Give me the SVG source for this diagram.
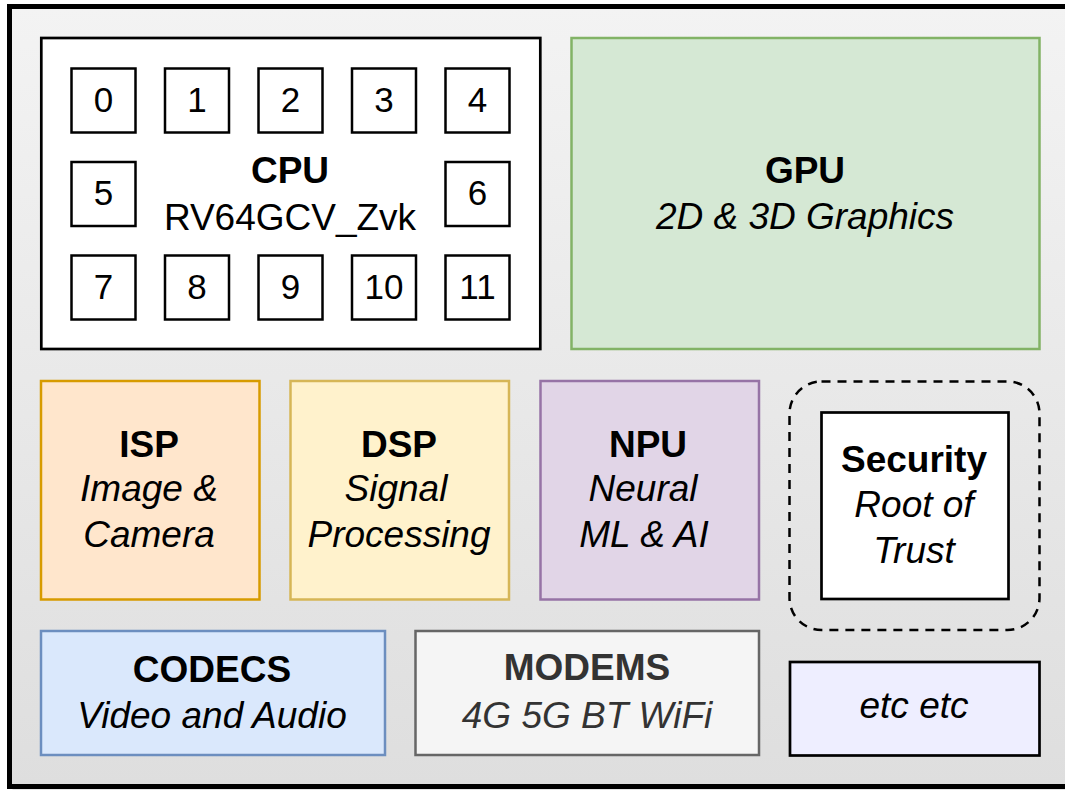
<svg xmlns="http://www.w3.org/2000/svg" width="1065" height="793" viewBox="0 0 1065 793">
  <defs>
    <linearGradient id="socFill" x1="0" y1="0" x2="0" y2="1">
      <stop offset="0" stop-color="#f3f3f3"/>
      <stop offset="1" stop-color="#dedede"/>
    </linearGradient>
  </defs>
  <style>
    text { font-family: "Liberation Sans", Arial, sans-serif; font-size: 37px; text-anchor: middle; fill: #000; }
    .b { font-weight: bold; }
    .i { font-style: italic; }
    .core rect { fill: #fff; stroke: #000; stroke-width: 2.5; }
    .core text { font-size: 35px; }
  </style>

  <!-- SoC package outline with drop shadow -->
  <g id="soc">
    <rect x="12.5" y="9.5" width="1070" height="780" fill="#9a9a9a" opacity="0.5"/>
    <rect x="9.5" y="6.5" width="1070" height="780" fill="url(#socFill)" stroke="#000" stroke-width="5"/>
  </g>

  <!-- CPU cluster -->
  <g id="cpu">
    <rect x="41.3" y="38" width="499" height="311" fill="#fff" stroke="#000" stroke-width="2.7"/>
    <text class="b" x="290" y="183">CPU</text>
    <text x="290" y="230">RV64GCV_Zvk</text>
  </g>
  <g id="core0" class="core"><rect x="71.5" y="68.5" width="64" height="64"/><text x="103.5" y="112">0</text></g>
  <g id="core1" class="core"><rect x="165" y="68.5" width="64" height="64"/><text x="197" y="112">1</text></g>
  <g id="core2" class="core"><rect x="258.5" y="68.5" width="64" height="64"/><text x="290.5" y="112">2</text></g>
  <g id="core3" class="core"><rect x="352" y="68.5" width="64" height="64"/><text x="384" y="112">3</text></g>
  <g id="core4" class="core"><rect x="445.5" y="68.5" width="64" height="64"/><text x="477.5" y="112">4</text></g>
  <g id="core5" class="core"><rect x="71.5" y="162" width="64" height="64"/><text x="103.5" y="205">5</text></g>
  <g id="core6" class="core"><rect x="445.5" y="162" width="64" height="64"/><text x="477.5" y="205">6</text></g>
  <g id="core7" class="core"><rect x="71.5" y="255.5" width="64" height="64"/><text x="103.5" y="299">7</text></g>
  <g id="core8" class="core"><rect x="165" y="255.5" width="64" height="64"/><text x="197" y="299">8</text></g>
  <g id="core9" class="core"><rect x="258.5" y="255.5" width="64" height="64"/><text x="290.5" y="299">9</text></g>
  <g id="core10" class="core"><rect x="352" y="255.5" width="64" height="64"/><text x="384" y="299">10</text></g>
  <g id="core11" class="core"><rect x="445.5" y="255.5" width="64" height="64"/><text x="477.5" y="299">11</text></g>

  <!-- GPU -->
  <g id="gpu">
    <rect x="571.5" y="38" width="468" height="311" fill="#d5e8d4" stroke="#82b366" stroke-width="2.5"/>
    <text class="b" x="805" y="183">GPU</text>
    <text class="i" x="805" y="229">2D &amp; 3D Graphics</text>
  </g>

  <!-- ISP -->
  <g id="isp">
    <rect x="41" y="381" width="218.5" height="218.5" fill="#ffe6cc" stroke="#d79b00" stroke-width="2.5"/>
    <text class="b" x="149" y="457">ISP</text>
    <text class="i" x="149" y="501">Image &amp;</text>
    <text class="i" x="149" y="547">Camera</text>
  </g>

  <!-- DSP -->
  <g id="dsp">
    <rect x="290.5" y="381" width="218.5" height="218.5" fill="#fff2cc" stroke="#d6b656" stroke-width="2.5"/>
    <text class="b" x="399" y="457">DSP</text>
    <text class="i" x="396" y="501">Signal</text>
    <text class="i" x="399" y="547">Processing</text>
  </g>

  <!-- NPU -->
  <g id="npu">
    <rect x="540.5" y="381" width="218.5" height="218.5" fill="#e1d5e7" stroke="#9673a6" stroke-width="2.5"/>
    <text class="b" x="648" y="457">NPU</text>
    <text class="i" x="643" y="501">Neural</text>
    <text class="i" x="644" y="547">ML &amp; AI</text>
  </g>

  <!-- Security enclave -->
  <g id="security-zone">
    <rect x="789.5" y="381.5" width="250" height="248.5" rx="32" ry="32" fill="none" stroke="#000" stroke-width="2.5" stroke-dasharray="9 7"/>
  </g>
  <g id="security">
    <rect x="821.5" y="412.5" width="187" height="186.5" fill="#fff" stroke="#000" stroke-width="2.7"/>
    <text class="b" x="914" y="472">Security</text>
    <text class="i" x="914" y="517">Root of</text>
    <text class="i" x="914" y="563">Trust</text>
  </g>

  <!-- CODECS -->
  <g id="codecs">
    <rect x="41" y="631" width="344" height="124" fill="#dae8fc" stroke="#6c8ebf" stroke-width="2.5"/>
    <text class="b" x="212" y="682">CODECS</text>
    <text class="i" x="212" y="728">Video and Audio</text>
  </g>

  <!-- MODEMS -->
  <g id="modems">
    <rect x="415.5" y="631" width="343.5" height="124" fill="#f5f5f5" stroke="#666666" stroke-width="2.5"/>
    <text class="b" x="587" y="680" style="fill:#333333">MODEMS</text>
    <text class="i" x="587" y="728" style="fill:#333333">4G 5G BT WiFi</text>
  </g>

  <!-- etc -->
  <g id="etc">
    <rect x="790" y="662" width="249.5" height="93.5" fill="#eeeeff" stroke="#000" stroke-width="2.7"/>
    <text class="i" x="914" y="718">etc etc</text>
  </g>

  <g id="connectors"/>
</svg>
